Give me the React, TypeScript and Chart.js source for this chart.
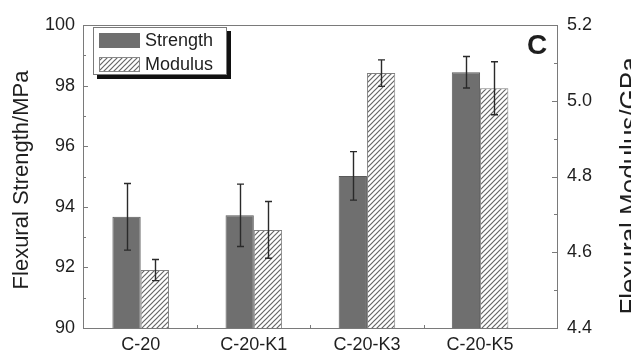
import React, { useEffect, useRef } from "react";
import { Chart, registerables } from "chart.js";
Chart.register(...registerables);

const categories = ["C-20", "C-20-K1", "C-20-K3", "C-20-K5"];
const strength = [93.67, 93.72, 95.02, 98.44];
const strengthErr = [1.1, 1.03, 0.8, 0.52];
const modulus = [4.553, 4.659, 5.073, 5.033];
const modulusErr = [0.028, 0.075, 0.035, 0.07];
const leftTicks = [90, 92, 94, 96, 98, 100];
const leftMinor = [91, 93, 95, 97, 99];
const rightTicks = [4.4, 4.6, 4.8, 5.0, 5.2];
const rightMinor = [4.5, 4.7, 4.9, 5.1];
const xMinor = [1.5, 2.5, 3.5];
const seriesNames = ["Strength", "Modulus"];
const leftTitle = "Flexural Strength/MPa";
const rightTitle = "Flexural Modulus/GPa";
const panelLabel = "C";

const FONT = "'Liberation Sans', Arial, Helvetica, sans-serif";
const SOLID = "#6f6f6f";
const HATCH = "#666666";
const FRAME = "#7a7a7a";
const TEXT = "#1e1e1e";

function makeHatch(): CanvasPattern | string {
  const s = 5;
  const c = document.createElement("canvas");
  c.width = s;
  c.height = s;
  const g = c.getContext("2d");
  if (!g) return "#fff";
  g.fillStyle = "#ffffff";
  g.fillRect(0, 0, s, s);
  g.strokeStyle = HATCH;
  g.lineWidth = 1.2;
  g.beginPath();
  g.moveTo(0, s);
  g.lineTo(s, 0);
  g.moveTo(-1, 1);
  g.lineTo(1, -1);
  g.moveTo(s - 1, s + 1);
  g.lineTo(s + 1, s - 1);
  g.stroke();
  const p = g.createPattern(c, "repeat");
  return p || "#fff";
}

export default function App() {
  const ref = useRef<HTMLCanvasElement | null>(null);
  useEffect(() => {
    const canvas = ref.current;
    if (!canvas) return;
    const hatch = makeHatch();

    const decor = {
      id: "decor",
      afterDatasetsDraw(chart: any) {
        const ctx = chart.ctx as CanvasRenderingContext2D;
        const sets: [number, number[], number[], string][] = [
          [0, strength, strengthErr, "y"],
          [1, modulus, modulusErr, "y2"],
        ];
        ctx.save();
        ctx.strokeStyle = "#2a2a2a";
        ctx.lineWidth = 1.4;
        sets.forEach(([di, vals, errs, axis]) => {
          const meta = chart.getDatasetMeta(di);
          const sc = chart.scales[axis];
          meta.data.forEach((el: any, i: number) => {
            const x = Math.round(el.x) + 0.5;
            const yt = sc.getPixelForValue(vals[i] + errs[i]);
            const yb = sc.getPixelForValue(vals[i] - errs[i]);
            ctx.beginPath();
            ctx.moveTo(x, yt);
            ctx.lineTo(x, yb);
            ctx.moveTo(x - 3.5, yt);
            ctx.lineTo(x + 3.5, yt);
            ctx.moveTo(x - 3.5, yb);
            ctx.lineTo(x + 3.5, yb);
            ctx.stroke();
          });
        });
        ctx.restore();
      },
      afterDraw(chart: any) {
        const ctx = chart.ctx as CanvasRenderingContext2D;
        const a = chart.chartArea;
        const ys = chart.scales.y;
        const y2 = chart.scales.y2;
        const xs = chart.scales.x;
        ctx.save();
        ctx.strokeStyle = FRAME;
        ctx.lineWidth = 1;
        ctx.strokeRect(Math.round(a.left) + 0.5, Math.round(a.top) + 0.5, Math.round(a.right - a.left), Math.round(a.bottom - a.top));
        ctx.beginPath();
        leftTicks.forEach((v) => {
          const y = Math.round(ys.getPixelForValue(v)) + 0.5;
          ctx.moveTo(a.left, y);
          ctx.lineTo(a.left + 5, y);
        });
        leftMinor.forEach((v) => {
          const y = Math.round(ys.getPixelForValue(v)) + 0.5;
          ctx.moveTo(a.left, y);
          ctx.lineTo(a.left + 3, y);
        });
        rightTicks.forEach((v) => {
          const y = Math.round(y2.getPixelForValue(v)) + 0.5;
          ctx.moveTo(a.right, y);
          ctx.lineTo(a.right - 5, y);
        });
        rightMinor.forEach((v) => {
          const y = Math.round(y2.getPixelForValue(v)) + 0.5;
          ctx.moveTo(a.right, y);
          ctx.lineTo(a.right - 3, y);
        });
        xMinor.forEach((v) => {
          const x = Math.round(xs.getPixelForValue(v)) + 0.5;
          ctx.moveTo(x, a.bottom);
          ctx.lineTo(x, a.bottom - 3);
        });
        ctx.stroke();

        ctx.fillStyle = TEXT;
        ctx.textAlign = "center";
        ctx.textBaseline = "middle";
        ctx.font = `22px ${FONT}`;
        ctx.save();
        ctx.translate(22, 180);
        ctx.rotate(-Math.PI / 2);
        ctx.fillText(leftTitle, 0, 0);
        ctx.restore();
        ctx.font = `26px ${FONT}`;
        ctx.save();
        ctx.translate(631, 186);
        ctx.rotate(-Math.PI / 2);
        ctx.fillText(rightTitle, 0, 0);
        ctx.restore();

        const lx = a.left + 10;
        const ly = a.top + 2;
        const lw = 134;
        const lh = 48;
        ctx.fillStyle = "#111";
        ctx.fillRect(lx + 4, ly + 4, lw, lh);
        ctx.fillStyle = "#fff";
        ctx.fillRect(lx, ly, lw, lh);
        ctx.strokeStyle = FRAME;
        ctx.lineWidth = 1;
        ctx.strokeRect(lx + 0.5, ly + 0.5, lw - 1, lh - 1);
        ctx.fillStyle = SOLID;
        ctx.fillRect(lx + 6, ly + 6, 41, 15);
        ctx.fillStyle = hatch as any;
        ctx.fillRect(lx + 6, ly + 30, 41, 15);
        ctx.strokeStyle = "#888";
        ctx.strokeRect(lx + 6.5, ly + 30.5, 40, 14);
        ctx.fillStyle = TEXT;
        ctx.textAlign = "left";
        ctx.font = `18px ${FONT}`;
        ctx.fillText(seriesNames[0], lx + 52, ly + 14);
        ctx.fillText(seriesNames[1], lx + 52, ly + 38);

        ctx.font = `bold 28px ${FONT}`;
        ctx.textAlign = "left";
        ctx.fillText(panelLabel, 527, 46);
        ctx.restore();
      },
    };

    const tickFont = { family: FONT, size: 18 };
    const chart = new Chart(canvas, {
      type: "bar",
      data: {
        datasets: [
          {
            label: seriesNames[0],
            data: strength.map((v, i) => ({ x: i + 1, y: v })),
            backgroundColor: SOLID,
            borderColor: "#5a5a5a",
            borderWidth: 1,
            yAxisID: "y",
            categoryPercentage: 0.5,
            barPercentage: 1,
          },
          {
            label: seriesNames[1],
            data: modulus.map((v, i) => ({ x: i + 1, y: v })),
            backgroundColor: hatch as any,
            borderColor: "#808080",
            borderWidth: 1,
            yAxisID: "y2",
            categoryPercentage: 0.5,
            barPercentage: 1,
          },
        ],
      },
      options: {
        animation: false,
        responsive: false,
        maintainAspectRatio: false,
        layout: { padding: { top: 25, left: 0, right: 0, bottom: 0 } },
        plugins: { legend: { display: false }, tooltip: { enabled: false } },
        scales: {
          x: {
            type: "linear",
            min: 0.49,
            max: 4.68,
            offset: false,
            grid: { display: false, drawTicks: false, tickLength: 0 },
            border: { display: false },
            afterBuildTicks: (s: any) => {
              s.ticks = categories.map((_, i) => ({ value: i + 1 }));
            },
            ticks: {
              callback: (v: any) => categories[Number(v) - 1] ?? "",
              font: tickFont,
              color: TEXT,
              padding: 6,
              maxRotation: 0,
              autoSkip: false,
            },
            afterFit: (s: any) => {
              s.height = 30;
            },
          } as any,
          y: {
            position: "left",
            min: 90,
            max: 100,
            grid: { display: false, drawTicks: false, tickLength: 0 },
            border: { display: false },
            afterBuildTicks: (s: any) => {
              s.ticks = leftTicks.map((v) => ({ value: v }));
            },
            ticks: { font: tickFont, color: TEXT, padding: 8 },
            afterFit: (s: any) => {
              s.width = 83;
            },
          } as any,
          y2: {
            position: "right",
            min: 4.4,
            max: 5.2,
            grid: { display: false, drawTicks: false, tickLength: 0 },
            border: { display: false },
            afterBuildTicks: (s: any) => {
              s.ticks = rightTicks.map((v) => ({ value: v }));
            },
            ticks: {
              font: tickFont,
              color: TEXT,
              padding: 10,
              callback: (v: any) => Number(v).toFixed(1),
            },
            afterFit: (s: any) => {
              s.width = 74;
            },
          } as any,
        },
      },
      plugins: [decor],
    });
    return () => chart.destroy();
  }, []);

  return (
    <div style={{ position: "fixed", left: 0, top: 0, width: 631, height: 358, background: "#fff" }}>
      <canvas ref={ref} width={631} height={358} style={{ width: 631, height: 358, display: "block" }} />
    </div>
  );
}
